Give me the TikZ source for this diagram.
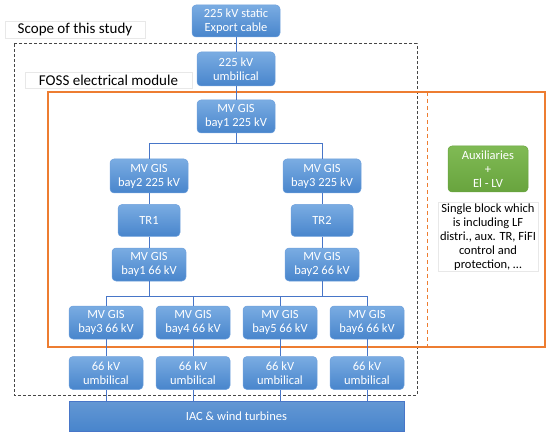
\documentclass[tikz,border=0pt]{standalone}
\usepackage{fontspec}
\setmainfont{Carlito}
\usetikzlibrary{positioning,calc}
\definecolor{boxtop}{RGB}{122,172,226}
\definecolor{boxbot}{RGB}{72,133,204}
\definecolor{boxline}{RGB}{110,160,220}
\definecolor{wire}{RGB}{72,118,200}
\definecolor{auxtop}{RGB}{128,186,84}
\definecolor{auxbot}{RGB}{104,164,62}
\definecolor{accent}{RGB}{237,125,49}
\definecolor{scope}{RGB}{70,70,70}
\definecolor{faint}{RGB}{232,232,232}

\begin{document}
\begin{tikzpicture}[
  x=1pt, y=-1pt,
  font=\fontsize{12.5}{14}\selectfont,
  block/.style={
    rectangle, rounded corners=4pt, draw=boxline, line width=0.5pt,
    top color=boxtop, bottom color=boxbot, text=white,
    minimum width=78pt, minimum height=34pt, align=center, inner sep=1pt
  },
  small/.style={block, minimum width=74pt, minimum height=33pt},
  trafo/.style={block, minimum width=62pt, minimum height=32pt},
  aux/.style={block, draw=auxbot, top color=auxtop, bottom color=auxbot,
    minimum width=80pt, minimum height=46pt},
  note/.style={rectangle, draw=faint, line width=0.4pt, align=center,
    minimum width=100pt, minimum height=69pt, inner sep=1pt},
  lbl/.style={rectangle, draw=faint, line width=0.4pt, fill=white,
    font=\fontsize{15}{16}\selectfont, inner sep=1pt},
  link/.style={draw=wire, line width=0.9pt},
]
\useasboundingbox (0,0) rectangle (550,436);

% frames
\draw[scope, line width=1pt, dash pattern=on 3pt off 2pt] (14,44) rectangle (417,395);
\draw[accent, line width=1.2pt] (48,92) rectangle (545,347);
\draw[accent, line width=1pt, dash pattern=on 4pt off 3pt] (427,92) -- (427,347);

\node[lbl, minimum width=140pt, minimum height=17pt] (scopelbl) at (75,29.5) {Scope of this study};
\node[lbl, minimum width=167pt, minimum height=16pt] (fosslbl) at (108.5,80) {FOSS electrical module};

% 225 kV side
\node[block, minimum width=88pt, minimum height=32pt] (exp) at (236,21) {225 kV static\\Export cable};
\node[block] (umbhv) at (236,69) {225 kV\\umbilical};
\node[block, minimum height=33pt] (gis1) at (236,116.5) {MV GIS\\bay1 225 kV};
\node[block] (gis2) at (149,176) {MV GIS\\bay2 225 kV};
\node[block] (gis3) at (322,176) {MV GIS\\bay3 225 kV};
\node[trafo, below=11pt of gis2] (tr1) {TR1};
\node[trafo, below=11pt of gis3] (tr2) {TR2};
\node[small, below=11pt of tr1] (mv1) {MV GIS\\bay1 66 kV};
\node[small, below=11pt of tr2] (mv2) {MV GIS\\bay2 66 kV};

% 66 kV side
\node[small] (mv3) at (106,322.5) {MV GIS\\bay3 66 kV};
\node[small] (mv4) at (193,322.5) {MV GIS\\bay4 66 kV};
\node[small] (mv5) at (280,322.5) {MV GIS\\bay5 66 kV};
\node[small] (mv6) at (367,322.5) {MV GIS\\bay6 66 kV};
\foreach \i in {3,4,5,6}
  \node[small, below=17pt of mv\i] (umb\i) {66 kV\\umbilical};

\node[rectangle, draw=wire, line width=0.8pt, top color=boxbot!85!white, bottom color=boxbot,
  text=white, minimum width=335pt, minimum height=30pt] (iac) at (236.5,416) {IAC \& wind turbines};

% auxiliaries
\node[aux] (aux) at (488,169) {Auxiliaries\\+\\El - LV};
\node[note, below=10pt of aux] (auxnote) {Single block which\\is including LF\\distri., aux. TR, FiFI\\control and\\protection, \dots};

% connectors
\draw[link] (exp) -- (umbhv);
\draw[link] (umbhv) -- (gis1);
\draw[link] (gis1.south) -- ++(0,10) -| (gis2.north);
\draw[link] (gis1.south) -- ++(0,10) -| (gis3.north);
\draw[link] (gis2) -- (tr1);
\draw[link] (tr1) -- (mv1);
\draw[link] (gis3) -- (tr2);
\draw[link] (tr2) -- (mv2);
\draw[link] (mv1.south) -- ++(0,15) coordinate (busl) -| (mv3.north);
\draw[link] (busl) -| (mv4.north);
\draw[link] (mv2.south) -- ++(0,15) coordinate (busr) -| (mv5.north);
\draw[link] (busr) -| (mv6.north);
\draw[link] (mv4.north |- busl) -- (mv5.north |- busr);
\foreach \i in {3,4,5,6} {
  \draw[link] (mv\i) -- (umb\i);
  \draw[link] (umb\i.south) -- (umb\i.south |- iac.north);
}
\end{tikzpicture}
\end{document}
